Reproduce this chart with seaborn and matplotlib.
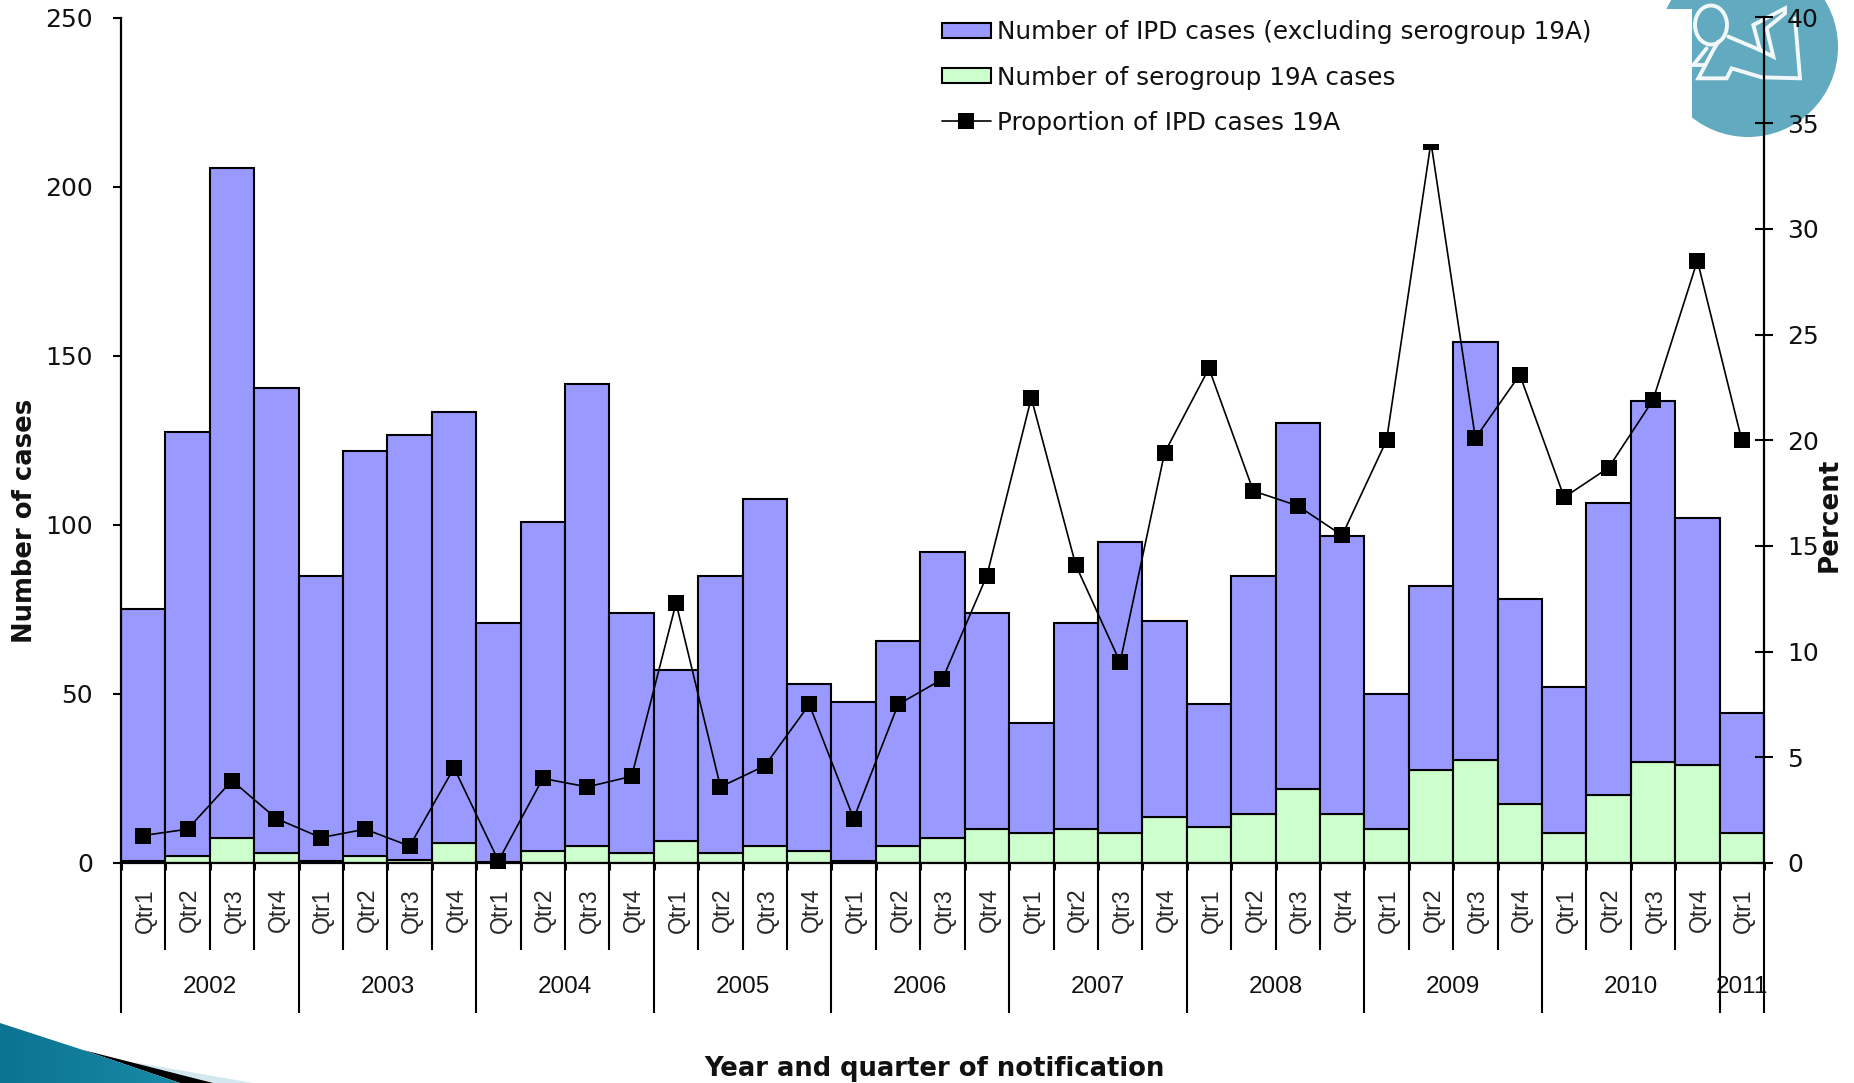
import numpy as np
import matplotlib
matplotlib.use("Agg")
import matplotlib.pyplot as plt
from matplotlib.lines import Line2D
from matplotlib.patches import Patch, Polygon, Circle, Ellipse, Rectangle
from matplotlib.transforms import Affine2D, ScaledTranslation
import seaborn as sns

sns.set_style("white")
plt.rcParams["font.family"] = ["DejaVu Sans"]

years = [2002, 2003, 2004, 2005, 2006, 2007, 2008, 2009, 2010, 2011]
quarters_per_year = [4, 4, 4, 4, 4, 4, 4, 4, 4, 1]

total_cases = [
    75, 127.5, 205.5, 140.5,
    85, 121.7, 126.5, 133.5,
    71, 100.7, 141.7, 74,
    57, 85, 107.7, 53,
    47.5, 65.7, 92, 74,
    41.5, 71, 95, 71.5,
    47, 85, 130, 96.7,
    50, 82, 154, 78,
    52, 106.5, 136.5, 102,
    44.5,
]
serogroup_19a = [
    0.7, 2, 7.5, 3,
    0.7, 2, 1, 6,
    0.3, 3.5, 5, 3,
    6.5, 3, 5, 3.5,
    0.7, 5, 7.5, 10,
    9, 10, 9, 13.5,
    10.5, 14.5, 22, 14.5,
    10, 27.5, 30.5, 17.5,
    9, 20, 30, 29,
    9,
]
percent_19a = [
    1.3, 1.6, 3.9, 2.1,
    1.2, 1.6, 0.8, 4.5,
    0.1, 4.0, 3.6, 4.1,
    12.3, 3.6, 4.6, 7.5,
    2.1, 7.5, 8.7, 13.6,
    22.0, 14.1, 9.5, 19.4,
    23.4, 17.6, 16.9, 15.5,
    20.0, 34.1, 20.1, 23.1,
    17.3, 18.7, 21.9, 28.5,
    20.0,
]

PURPLE = "#9999FF"
GREEN = "#CCFFCC"
TEAL = "#62AABF"
LOGO_LINE = "#F2F8FA"

W, H = 1854, 1083
LEFT, RIGHT, TOP, BASE = 121, 1764, 17.5, 863

periods = [f"{y} Qtr{q + 1}" for y, n in zip(years, quarters_per_year) for q in range(n)]
quarter_labels = [p.split()[1] for p in periods]
total = np.array(total_cases)
sero = np.array(serogroup_19a)
positions = np.arange(len(periods))

fig = plt.figure(figsize=(W / 100, H / 100), dpi=100, facecolor="white")

# Slide furniture behind the chart, in pixel coordinates
bg = fig.add_axes([0, 0, 1, 1], zorder=0)
bg.axis("off")

bg.add_patch(Circle((1748, 47), 90, fc=TEAL, ec="none"))
bg.add_patch(Ellipse((1711, 25), 32, 39, fc="none", ec=LOGO_LINE, lw=2.8))
arm = [(130, 110), (225, 150), (265, 170), (245, 85), (300, 40), (300, 25), (205, 75), (225, 150)]
body = [(330, 55), (345, 235), (230, 232), (140, 205), (125, 235), (40, 235), (85, 150), (100, 125)]
foot = [(65, 145), (25, 195), (60, 195)]
for pts in (arm, body, foot):
    xs = [1685 + p[0] / 3 for p in pts]
    ys = [p[1] / 3 for p in pts]
    bg.plot(xs, ys, color=LOGO_LINE, lw=2.8, solid_joinstyle="miter")

bg.add_patch(Polygon([(133, 1062), (253, 1083), (195, 1083)], fc="#D3E7EF", ec="none"))
bg.add_patch(Polygon([(83, 1050), (213, 1083), (180, 1083)], fc="black", ec="none"))
ramp = np.linspace(0, 1, 256).reshape(1, -1)
wedge_cmap = matplotlib.colors.LinearSegmentedColormap.from_list("wedge", ["#0A7391", "#1A8DAA"])
wedge_img = bg.imshow(ramp, extent=(0, 200, H, 1020), cmap=wedge_cmap, aspect="auto", zorder=1)
wedge_img.set_clip_path(Polygon([(0, 1023), (83, 1050), (180, 1083), (0, 1083)],
                                transform=bg.transData))
bg.set_xlim(0, W)
bg.set_ylim(H, 0)

# Case counts as stacked bars
ax = fig.add_axes([LEFT / W, 1 - BASE / H, (RIGHT - LEFT) / W, (BASE - TOP) / H], zorder=1)
ax.patch.set_alpha(0)
sns.barplot(x=periods, y=sero, color=GREEN, saturation=1, width=1,
            edgecolor="black", linewidth=1.5, ax=ax)
sns.barplot(x=periods, y=total - sero, bottom=sero, color=PURPLE, saturation=1, width=1,
            edgecolor="black", linewidth=1.5, ax=ax)
ax.set_xlim(-0.5, len(periods) - 0.5)
ax.set_ylim(0, 250)
ax.set_yticks(range(0, 251, 50))
ax.set_ylabel("")
ax.set_xlabel("")
ax.set_xticks(positions, quarter_labels, rotation=90, family="Liberation Sans", fontsize=16.5)
ax.tick_params(axis="x", length=0, pad=18)
ax.tick_params(axis="y", direction="out", length=6, width=1.5, pad=14, labelsize=18, left=True,
               color="black", labelcolor="#111111")
nudge = ScaledTranslation(2 / 100, 0, fig.dpi_scale_trans)
for label in ax.get_xticklabels():
    label.set_transform(label.get_transform() + nudge)
for name in ("top", "right"):
    ax.spines[name].set_visible(False)
for name in ("left", "bottom"):
    ax.spines[name].set_linewidth(1.6)
    ax.spines[name].set_color("black")

# Two-level category axis below the bars
to_frac = lambda py: (BASE - py) / (BASE - TOP)
x_trans = ax.get_xaxis_transform()
edges = np.arange(len(periods) + 1) - 0.5
year_edges = np.concatenate([[0], np.cumsum(quarters_per_year)]) - 0.5
ax.vlines(edges, to_frac(BASE), to_frac(950), color="black", lw=1.5, transform=x_trans, clip_on=False)
ax.vlines(edges, to_frac(BASE), to_frac(870), color="black", lw=2.2, transform=x_trans, clip_on=False)
ax.vlines(year_edges, to_frac(950), to_frac(1013), color="black", lw=1.5, transform=x_trans, clip_on=False)
for year, a, b in zip(years, year_edges[:-1], year_edges[1:]):
    ax.text((a + b) / 2, to_frac(987), str(year), transform=x_trans, ha="center", va="center",
            family="Liberation Sans", fontsize=17.5, color="#111111", clip_on=False)

# Proportion of cases on the secondary axis
ax2 = ax.twinx()
ax2.set_zorder(2)
ax2.patch.set_alpha(0)
sns.lineplot(x=positions, y=percent_19a, color="black", lw=1.2, marker="s", markersize=11.3,
             markeredgewidth=0, markerfacecolor="black", clip_on=False, ax=ax2, errorbar=None)
ax2.set_ylim(0, 40)
ax2.set_yticks(range(0, 41, 5))
ax2.tick_params(axis="y", direction="inout", length=13, width=1.5, pad=10, labelsize=18, right=True,
                color="black", labelcolor="#111111")
for name in ("top", "left", "bottom"):
    ax2.spines[name].set_visible(False)
ax2.spines["right"].set_linewidth(1.6)
ax2.spines["right"].set_color("black")
ax2.set_ylabel("")
ax2.set_xlabel("")

# White panel behind the legend
to_display = Affine2D().scale(1, -1).translate(0, H)
ax2.add_patch(Rectangle((930, 9), 762, 135, fc="white", ec="none", transform=to_display,
                        zorder=10, clip_on=False))

handles = [
    Patch(fc=PURPLE, ec="black", lw=1.5),
    Patch(fc=GREEN, ec="black", lw=1.5),
    Line2D([], [], color="black", lw=1.2, marker="s", markersize=11, markeredgewidth=0,
           markerfacecolor="black"),
]
labels = ["Number of IPD cases (excluding serogroup 19A)", "Number of serogroup 19A cases",
          "Proportion of IPD cases 19A"]
legend = ax2.legend(handles, labels, loc="upper left", bbox_to_anchor=(942 / W, 1 - 20.5 / H),
                    bbox_transform=fig.transFigure, frameon=False, borderpad=0, borderaxespad=0,
                    handlelength=1.98, handleheight=0.57, handletextpad=0.24, labelspacing=0.85,
                    prop={"family": "DejaVu Sans", "size": 17.8}, labelcolor="#111111")
legend.set_zorder(11)

# Axis titles
fig.text(25 / W, 1 - 521 / H, "Number of cases", rotation=90, ha="center", va="center",
         fontsize=18.6, fontweight="bold", color="#111111")
fig.text(1830 / W, 1 - 515 / H, "Percent", rotation=90, ha="center", va="center",
         fontsize=18.8, fontweight="bold", color="#111111", zorder=20)
fig.text(935 / W, 1 - 1069 / H, "Year and quarter of notification", ha="center", va="center",
         fontsize=18.6, fontweight="bold", color="#111111")

fig.savefig("out.png", dpi=100)
